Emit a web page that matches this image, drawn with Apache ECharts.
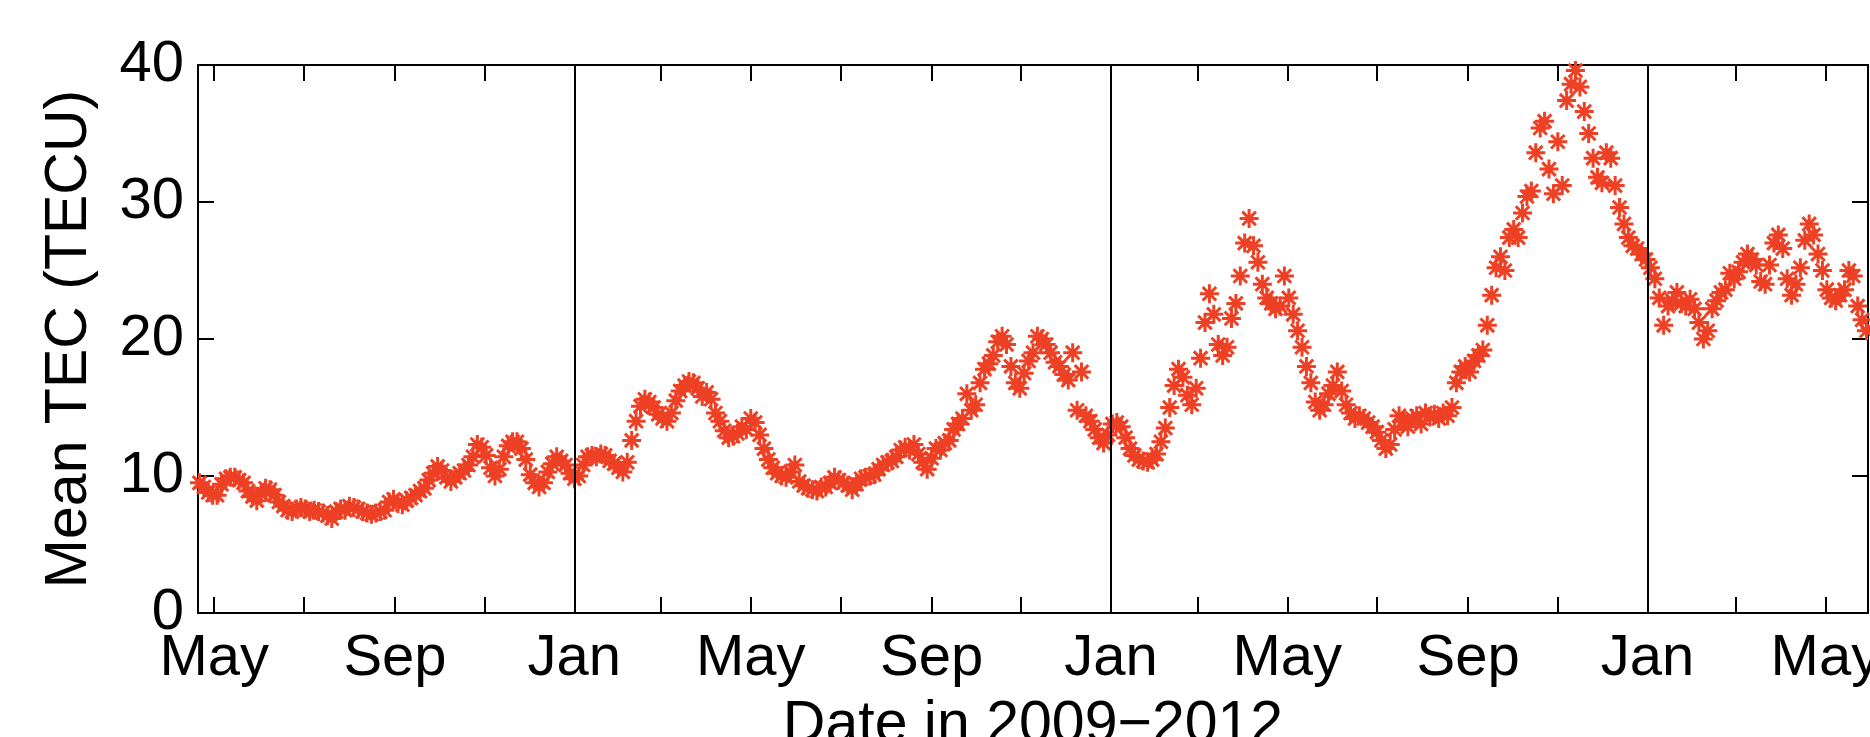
<!DOCTYPE html>
<html>
<head>
<meta charset="utf-8">
<style>
  html, body { margin: 0; padding: 0; background: #fff; }
  #chart { width: 1870px; height: 737px; }
</style>
<script src="https://cdn.jsdelivr.net/npm/echarts@6/dist/echarts.min.js"></script>
</head>
<body>
<div id="chart"></div>
<script>
// daily mean TEC, every 3 days starting 2009-04-21
const startDay = '2009-04-21';
const stepDays = 3;

const tecApr2009 = [
  9.5, 9.2, 8.8, 8.6, 8.6, 9.4, 9.8, 9.9, 9.9, 9.7,
  9.5, 8.9, 8.5, 8.2, 8.7, 9.1, 9.0, 8.6, 8.1, 7.8,
  7.5, 7.4, 7.6, 7.7, 7.6, 7.4, 7.5, 7.4, 7.3, 7.1,
  6.9, 7.4, 7.6, 7.5, 7.8, 7.7, 7.6, 7.4, 7.3, 7.2,
  7.3, 7.4, 7.5, 8.1, 8.3, 8.0, 7.9, 8.2, 8.4, 8.6,
  8.9, 9.1, 9.7, 10.2, 10.7, 10.4, 9.9, 9.6, 9.9, 10.2,
  10.4, 10.8, 11.4, 12.3, 12.1, 11.5, 10.6, 10.0, 10.5, 11.4,
  12.2, 12.5, 12.5, 12.0, 11.2, 10.1, 9.5, 9.2, 9.5, 10.3,
  10.9, 11.4, 11.1, 10.8, 10.2, 9.8, 10.0, 10.8, 11.4, 11.5,
  11.4, 11.6, 11.5, 11.1, 10.9, 10.6, 10.3, 11.0, 12.6, 14.0
];
const tecFeb2010 = [
  15.1, 15.6, 15.4, 15.0, 14.5, 14.2, 14.0, 14.6, 15.5, 16.2,
  16.6, 16.9, 16.8, 16.4, 15.8, 16.1, 15.6, 14.6, 14.0, 13.3,
  12.8, 12.9, 13.1, 13.6, 13.4, 14.2, 13.9, 13.0, 12.0, 11.2,
  10.6, 10.2, 10.0, 9.9, 10.3, 10.8, 9.6, 9.3, 9.1, 9.0,
  8.9, 9.2, 9.2, 9.5, 9.9, 9.7, 9.5, 9.3, 9.0, 9.4,
  9.8, 9.9, 10.0, 10.1, 10.5, 10.8, 11.0, 11.1, 11.4, 11.9,
  12.1, 11.9, 12.3, 11.6, 11.0, 10.5, 11.3, 12.0, 11.9, 12.4,
  12.6, 13.4, 13.8, 14.2, 16.0, 14.8, 15.2, 16.8, 17.8, 18.2,
  18.8, 19.8, 20.2, 19.6, 18.0, 16.8, 16.4, 17.5, 18.4, 19.0,
  20.2, 20.0, 19.6, 19.0, 18.3, 18.0, 17.4, 17.0, 19.0, 14.8
];
const tecDec2010 = [
  17.6, 14.4, 14.0, 13.4, 12.8, 12.4, 13.0, 13.8, 13.9, 13.6,
  12.8, 12.0, 11.5, 11.2, 11.1, 11.0, 11.2, 11.6, 12.5, 13.5,
  15.0, 16.6, 17.8, 17.2, 15.9, 15.2, 16.4, 18.6, 21.2, 23.3,
  21.8, 19.6, 18.8, 19.4, 21.5, 22.6, 24.6, 27.0, 28.8, 26.8,
  25.6, 24.0, 23.0, 22.6, 22.2, 22.4, 24.6, 23.0, 21.8, 20.6,
  19.4, 18.0, 16.8, 15.4, 14.8, 15.2, 16.0, 16.6, 17.6, 16.2,
  15.2, 14.6, 14.2, 14.4, 14.2, 13.9, 13.6, 13.2, 12.6, 12.0,
  12.3, 13.4, 14.4, 14.0, 13.6, 14.2, 14.4, 13.8, 14.6, 14.3,
  14.5, 14.2, 14.6, 14.4, 15.0, 16.8, 17.6, 18.0, 17.6, 18.4,
  18.8, 19.2, 21.0, 23.2, 25.2, 26.0, 25.0, 27.4, 28.0, 27.4
];
const tecOct2011 = [
  29.2, 30.4, 30.8, 33.6, 35.4, 35.9, 32.4, 30.6, 34.4, 31.2,
  37.4, 38.6, 39.6, 38.4, 36.6, 35.0, 33.2, 31.8, 31.4, 33.6,
  33.2, 31.2, 29.6, 28.4, 27.4, 26.8, 26.6, 26.2, 25.8, 25.2,
  24.4, 23.0, 21.0, 22.4, 22.8, 23.4, 22.6, 22.4, 22.9, 22.2,
  21.2, 20.0, 20.6, 22.2, 22.8, 23.4, 23.6, 24.8, 24.4, 24.9,
  25.6, 26.2, 25.8, 25.4, 24.2, 24.0, 25.4, 27.0, 27.6, 26.6,
  24.4, 23.2, 24.0, 25.2, 27.2, 28.4, 27.6, 26.2, 25.0, 23.6,
  23.0, 22.8, 23.2, 23.6, 25.0, 24.6, 22.4, 21.4, 20.6
];

const xRange = ['2009-04-20', '2012-05-30'];
const tickMonths = [
  '2009-05-01', '2009-07-01', '2009-09-01', '2009-11-01',
  '2010-01-01', '2010-03-01', '2010-05-01', '2010-07-01', '2010-09-01', '2010-11-01',
  '2011-01-01', '2011-03-01', '2011-05-01', '2011-07-01', '2011-09-01', '2011-11-01',
  '2012-01-01', '2012-03-01', '2012-05-01'
];
const labelMonths = [
  '2009-05-01', '2009-09-01', '2010-01-01', '2010-05-01', '2010-09-01',
  '2011-01-01', '2011-05-01', '2011-09-01', '2012-01-01', '2012-05-01'
];
const yearStarts = ['2010-01-01', '2011-01-01', '2012-01-01'];
const monthNames = ['Jan', 'Feb', 'Mar', 'Apr', 'May', 'Jun', 'Jul', 'Aug', 'Sep', 'Oct', 'Nov', 'Dec'];

const DAY = 86400000;
const t = s => Date.parse(s + 'T00:00:00Z');

const tecValues = [].concat(tecApr2009, tecFeb2010, tecDec2010, tecOct2011);
const points = tecValues.map((v, i) => [t(startDay) + i * stepDays * DAY, v]);

const red = '#ee4024';
const font = "'Liberation Sans', Arial, Helvetica, sans-serif";
const black = { color: '#000', width: 2 };
const asterisk = 'path://M0 8H16M8 0V16M2.3 2.3L13.7 13.7M13.7 2.3L2.3 13.7';

const chart = echarts.init(document.getElementById('chart'));

chart.setOption({
  animation: false,
  backgroundColor: '#fff',
  grid: { left: 198, right: 2, top: 65, bottom: 124, outerBoundsMode: 'none' },
  xAxis: [{
    type: 'value',
    position: 'bottom',
    min: t(xRange[0]),
    max: t(xRange[1]),
    name: 'Date in 2009\u22122012',
    nameLocation: 'middle',
    nameGap: 83,
    nameTextStyle: { fontSize: 59, color: '#000', fontFamily: font },
    axisLine: { show: true, onZero: false, lineStyle: black },
    axisTick: { show: true, inside: true, length: 16, lineStyle: black, customValues: tickMonths.map(t) },
    axisLabel: {
      fontSize: 58, color: '#000', fontFamily: font, margin: 17,
      customValues: labelMonths.map(t),
      formatter: v => monthNames[new Date(v).getUTCMonth()]
    },
    splitLine: { show: false }
  }, {
    type: 'value',
    position: 'top',
    min: t(xRange[0]),
    max: t(xRange[1]),
    axisLine: { show: true, onZero: false, lineStyle: black },
    axisTick: { show: true, inside: true, length: 16, lineStyle: black, customValues: tickMonths.map(t) },
    axisLabel: { show: false },
    splitLine: { show: false }
  }],
  yAxis: [{
    type: 'value',
    position: 'left',
    min: 0,
    max: 40,
    interval: 10,
    name: 'Mean TEC (TECU)',
    nameLocation: 'middle',
    nameGap: 99,
    nameTextStyle: { fontSize: 59, color: '#000', fontFamily: font },
    axisLine: { show: true, onZero: false, lineStyle: black },
    axisTick: { show: true, inside: true, length: 16, lineStyle: black },
    axisLabel: { fontSize: 58, color: '#000', fontFamily: font, margin: 14 },
    splitLine: { show: false }
  }, {
    type: 'value',
    position: 'right',
    min: 0,
    max: 40,
    interval: 10,
    axisLine: { show: true, onZero: false, lineStyle: black },
    axisTick: { show: true, inside: true, length: 16, lineStyle: black },
    axisLabel: { show: false },
    splitLine: { show: false }
  }],
  series: [{
    type: 'scatter',
    xAxisIndex: 0,
    yAxisIndex: 0,
    data: points,
    symbol: asterisk,
    symbolSize: 19,
    itemStyle: { color: 'rgba(0,0,0,0)', borderColor: red, borderWidth: 3, opacity: 1 },
    emphasis: { disabled: true },
    markLine: {
      silent: true,
      symbol: 'none',
      label: { show: false },
      lineStyle: { color: '#000', width: 2, type: 'solid' },
      data: yearStarts.map(d => ({ xAxis: t(d) }))
    }
  }]
});
</script>
</body>
</html>
